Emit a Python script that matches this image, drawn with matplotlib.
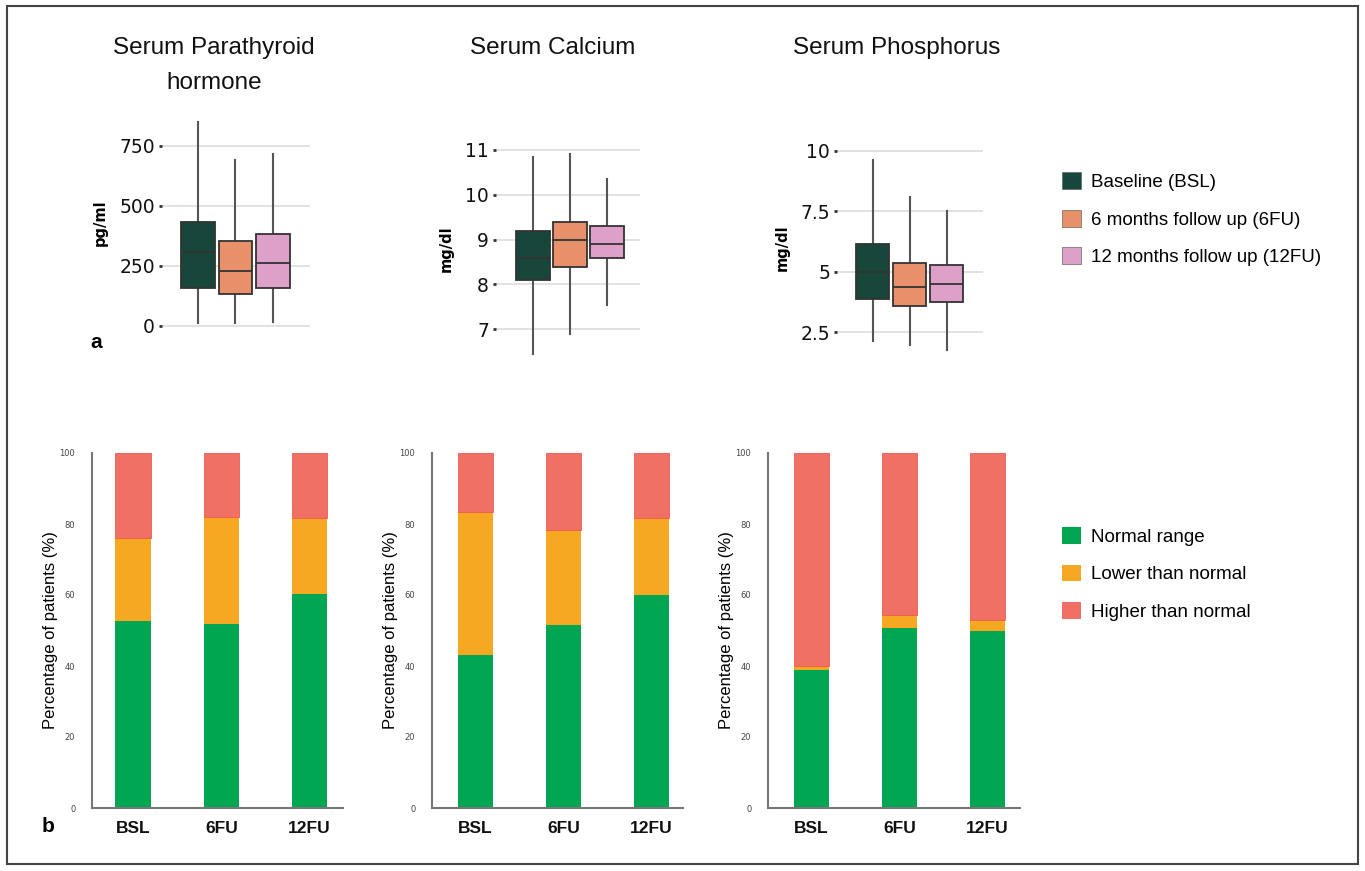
import matplotlib
matplotlib.use("Agg")
import matplotlib.pyplot as plt
from matplotlib.patches import Patch, Rectangle

# --- dati ---
visits = ["BSL", "6FU", "12FU"]
visit_names = ["Baseline (BSL)", "6 months follow up (6FU)", "12 months follow up (12FU)"]

# box plot: whisker basso, Q1, mediana, Q3, whisker alto
pth_stats = [[14, 160, 307, 435, 851],
             [14, 133, 228, 354, 692],
             [15, 160, 262, 382, 717]]
ca_stats = [[6.45, 8.09, 8.60, 9.20, 10.84],
            [6.89, 8.39, 9.00, 9.39, 10.91],
            [7.55, 8.59, 8.90, 9.30, 10.35]]
p_stats = [[2.15, 3.86, 5.00, 6.17, 9.63],
           [1.97, 3.59, 4.39, 5.37, 8.08],
           [1.76, 3.76, 4.50, 5.28, 7.53]]

# barre impilate: % normale, % sotto, % sopra
pth_normal = [52.8, 51.8, 60.4]
pth_lower = [23.3, 30.2, 21.3]
ca_normal = [43.2, 51.5, 60.1]
ca_lower = [40.2, 26.9, 21.6]
p_normal = [39.0, 50.7, 50.0]
p_lower = [0.9, 3.6, 2.9]

box_colors = ["#17473A", "#E8906A", "#DDA0C8"]
bar_colors = {"Normal range": "#00A651", "Lower than normal": "#F7A823",
              "Higher than normal": "#F07065"}

W, H = 1365, 871
fig = plt.figure(figsize=(W / 100, H / 100), dpi=100)
fig.patch.set_facecolor("white")


def px_axes(x0, y0, x1, y1):
    return fig.add_axes([x0 / W, 1 - y1 / H, (x1 - x0) / W, (y1 - y0) / H])


# --- a: box plot ---
def box_panel(ax, stats, ticks, ticklabels, ylabel, ylim, xlim):
    bxp = [dict(whislo=s[0], q1=s[1], med=s[2], q3=s[3], whishi=s[4], label=v)
           for s, v in zip(stats, visits)]
    parts = ax.bxp(bxp, positions=range(3), widths=0.9, showfliers=False,
                   showcaps=False, patch_artist=True,
                   boxprops=dict(edgecolor="#333333", linewidth=1.3),
                   medianprops=dict(color="#333333", linewidth=1.3),
                   whiskerprops=dict(color="#555555", linewidth=1.5))
    for b, c in zip(parts["boxes"], box_colors):
        b.set_facecolor(c)
        b.set_zorder(3)
    for m in parts["medians"]:
        m.set_zorder(4)
    ax.set_xlim(*xlim)
    ax.set_ylim(*ylim)
    ax.set_yticks(ticks)
    ax.set_yticklabels(ticklabels, fontsize=13.5, color="#111111")
    ax.set_xticks([])
    ax.grid(axis="y", color="#dddddd", linewidth=1.2, zorder=0)
    ax.set_axisbelow(True)
    ax.tick_params(axis="y", length=2, width=2, color="#333333", pad=3)
    for s in ax.spines.values():
        s.set_visible(False)
    ax.set_ylabel(ylabel, fontsize=10.5, fontweight="bold", labelpad=8)
    ax.patch.set_alpha(0)


ax1 = px_axes(161.7, 115, 310, 330)
box_panel(ax1, pth_stats, [0, 250, 500, 750], ["0", "250", "500", "750"],
          "pg/ml", (-16.7, 879), (-0.98, 3.0))
ax2 = px_axes(496, 140, 640, 358)
box_panel(ax2, ca_stats, [7, 8, 9, 10, 11], ["7", "8", "9", "10", "11"],
          "mg/dl", (6.36, 11.22), (-1.0, 2.89))
ax3 = px_axes(837, 140, 983, 355)
box_panel(ax3, p_stats, [2.5, 5, 7.5, 10], ["2.5", "5", "7.5", "10"],
          "mg/dl", (1.56, 10.45), (-0.96, 2.98))

title_kw = dict(ha="center", va="center", fontsize=17.5, family="Liberation Sans",
                color="#111111")
fig.text(214 / W, 1 - 48 / H, "Serum Parathyroid", **title_kw)
fig.text(214 / W, 1 - 83 / H, "hormone", **title_kw)
fig.text(553 / W, 1 - 48 / H, "Serum Calcium", **title_kw)
fig.text(897 / W, 1 - 48 / H, "Serum Phosphorus", **title_kw)

fig.legend(handles=[Patch(facecolor=c, edgecolor="#666666", linewidth=0.5, label=l)
                    for c, l in zip(box_colors, visit_names)],
           loc="upper left", bbox_to_anchor=(1062 / W, 1 - 172 / H),
           frameon=False, prop=dict(family="Liberation Sans", size=13.5),
           handlelength=1.0, handleheight=1.0, handletextpad=0.55,
           labelspacing=1.01, borderpad=0, borderaxespad=0)


# --- b: barre impilate ---
def bar_panel(ax, normal, lower, xlim):
    x = range(len(visits))
    higher = [100 - n - l for n, l in zip(normal, lower)]
    bottoms2 = [n + l for n, l in zip(normal, lower)]
    ax.bar(x, normal, width=0.4, color=bar_colors["Normal range"])
    ax.bar(x, lower, width=0.4, bottom=normal, color=bar_colors["Lower than normal"])
    ax.bar(x, higher, width=0.4, bottom=bottoms2,
           color=bar_colors["Higher than normal"], edgecolor="#EE5A50", linewidth=0.6)
    ax.set_xlim(*xlim)
    ax.set_ylim(0, 100)
    ax.set_yticks([0, 20, 40, 60, 80, 100])
    ax.tick_params(axis="y", length=0, labelsize=6, labelcolor="#444444", pad=12)
    ax.tick_params(axis="x", length=0, pad=9)
    ax.set_xticks(list(x))
    ax.set_xticklabels(visits, fontsize=12.5, fontweight="bold",
                       family="Liberation Sans", color="#111111")
    for side in ["top", "right"]:
        ax.spines[side].set_visible(False)
    for side in ["left", "bottom"]:
        ax.spines[side].set_color("#777777")
        ax.spines[side].set_linewidth(1.5)
    ax.set_ylabel("Percentage of patients (%)", fontsize=12,
                  family="Liberation Sans", labelpad=1)


b1 = px_axes(92, 453, 343, 808)
bar_panel(b1, pth_normal, pth_lower, (-0.466, 2.38))
b2 = px_axes(432, 453, 683, 808)
bar_panel(b2, ca_normal, ca_lower, (-0.494, 2.36))
b3 = px_axes(768, 453, 1020, 808)
bar_panel(b3, p_normal, p_lower, (-0.49, 2.37))

fig.legend(handles=[Patch(facecolor=c, label=l) for l, c in bar_colors.items()],
           loc="upper left", bbox_to_anchor=(1062 / W, 1 - 527 / H),
           frameon=False, prop=dict(family="Liberation Sans", size=13.5),
           handlelength=1.0, handleheight=1.0, handletextpad=0.55,
           labelspacing=1.0, borderpad=0, borderaxespad=0)

fig.text(90 / W, 1 - 343 / H, "a", fontsize=15, fontweight="bold",
         family="Liberation Sans", ha="left", va="center")
fig.text(42 / W, 1 - 826 / H, "b", fontsize=15, fontweight="bold",
         family="Liberation Sans", ha="left", va="center")

# cornice
fig.patches.append(Rectangle((7 / W, 1 - 864 / H), (1358 - 7) / W, (864 - 6) / H,
                             transform=fig.transFigure, fill=False,
                             edgecolor="#444444", linewidth=1.5))

fig.savefig("out.png", dpi=100)
